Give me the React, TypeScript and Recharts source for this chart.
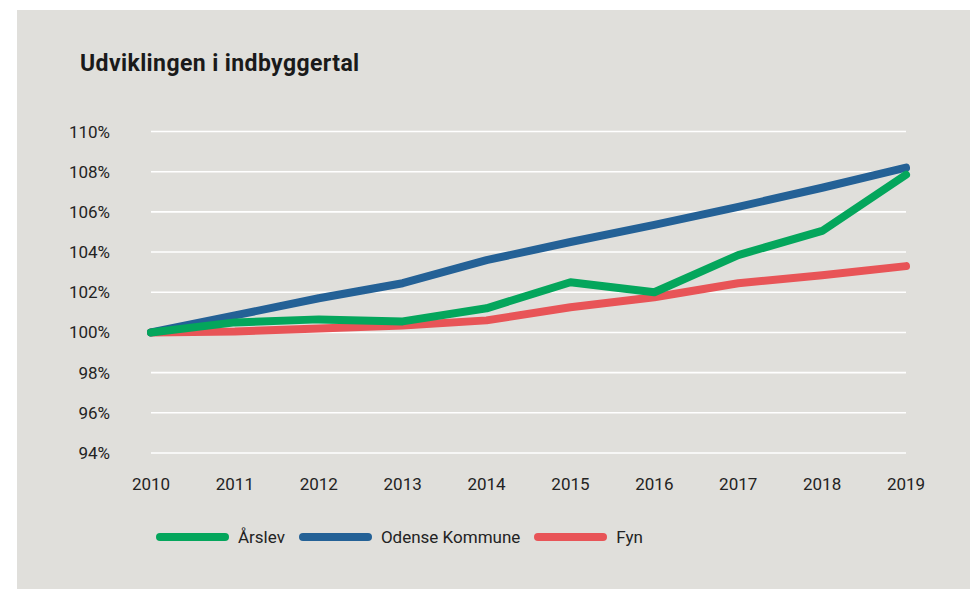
import React from 'react';
import { LineChart, Line, XAxis, YAxis, CartesianGrid, Legend } from 'recharts';

const years = ['2010', '2011', '2012', '2013', '2014', '2015', '2016', '2017', '2018', '2019'];
const arslev = [100, 100.5, 100.65, 100.55, 101.2, 102.5, 102.0, 103.85, 105.05, 107.85];
const odense = [100, 100.85, 101.7, 102.45, 103.6, 104.5, 105.35, 106.25, 107.2, 108.2];
const fyn = [100, 100.05, 100.2, 100.35, 100.6, 101.25, 101.75, 102.45, 102.85, 103.3];
const yTicks = [94, 96, 98, 100, 102, 104, 106, 108, 110];

const seriesKeys = ['arslev', 'odense', 'fyn'];
const seriesNames = ['Årslev', 'Odense Kommune', 'Fyn'];
const seriesColors = ['#04a65c', '#246196', '#e85457'];
const title = 'Udviklingen i indbyggertal';

const data = years.map((y, i) => ({ year: y, arslev: arslev[i], odense: odense[i], fyn: fyn[i] }));

const FONT = 'Roboto, "Noto Sans", sans-serif';
const TEXT = '#232323';

const LegendContent = () => (
  <div style={{ display: 'flex', alignItems: 'center', height: 24, fontFamily: FONT, fontSize: 17, color: TEXT }}>
    {seriesNames.map((n, i) => (
      <div key={n} style={{ display: 'flex', alignItems: 'center', marginRight: 14 }}>
        <div style={{ width: 73, height: 8, borderRadius: 4, background: seriesColors[i], marginRight: 9 }} />
        <span style={{ whiteSpace: 'nowrap' }}>{n}</span>
      </div>
    ))}
  </div>
);

export default function App() {
  const drawOrder = [2, 1, 0];
  return (
    <div style={{ position: 'absolute', left: 17, top: 10, width: 953, height: 579, background: '#e0dfdb' }}>
      <div
        style={{
          position: 'absolute',
          left: 63,
          top: 42,
          fontFamily: FONT,
          fontWeight: 700,
          fontSize: 23,
          letterSpacing: '0.4px',
          lineHeight: '23px',
          color: '#1a1a1a',
          whiteSpace: 'nowrap',
        }}
      >
        {title}
      </div>
      <LineChart
        width={953}
        height={579}
        data={data}
        margin={{ top: 121.5, right: 64, left: 0, bottom: 106 }}
        style={{ position: 'absolute', left: 0, top: 0 }}
      >
        <CartesianGrid horizontal vertical={false} stroke="#ffffff" strokeWidth={1.6} />
        <XAxis
          dataKey="year"
          axisLine={false}
          tickLine={false}
          tickSize={0}
          tickMargin={25}
          height={30}
          interval={0}
          tick={{ fill: TEXT, fontSize: 17, fontFamily: FONT }}
        />
        <YAxis
          domain={[94, 110]}
          ticks={yTicks}
          interval={0}
          axisLine={false}
          tickLine={false}
          tickSize={0}
          tickMargin={41}
          width={134}
          tickFormatter={(v: number) => `${v}%`}
          tick={{ fill: TEXT, fontSize: 17, fontFamily: FONT }}
        />
        <Legend
          layout="vertical"
          align="center"
          verticalAlign="middle"
          content={<LegendContent />}
          wrapperStyle={{ left: 139, top: 515, width: 700 }}
        />
        {drawOrder.map((i) => (
          <Line
            key={seriesKeys[i]}
            type="linear"
            dataKey={seriesKeys[i]}
            name={seriesNames[i]}
            stroke={seriesColors[i]}
            strokeWidth={8}
            strokeLinecap="round"
            strokeLinejoin="round"
            dot={false}
            activeDot={false}
            isAnimationActive={false}
          />
        ))}
      </LineChart>
    </div>
  );
}
